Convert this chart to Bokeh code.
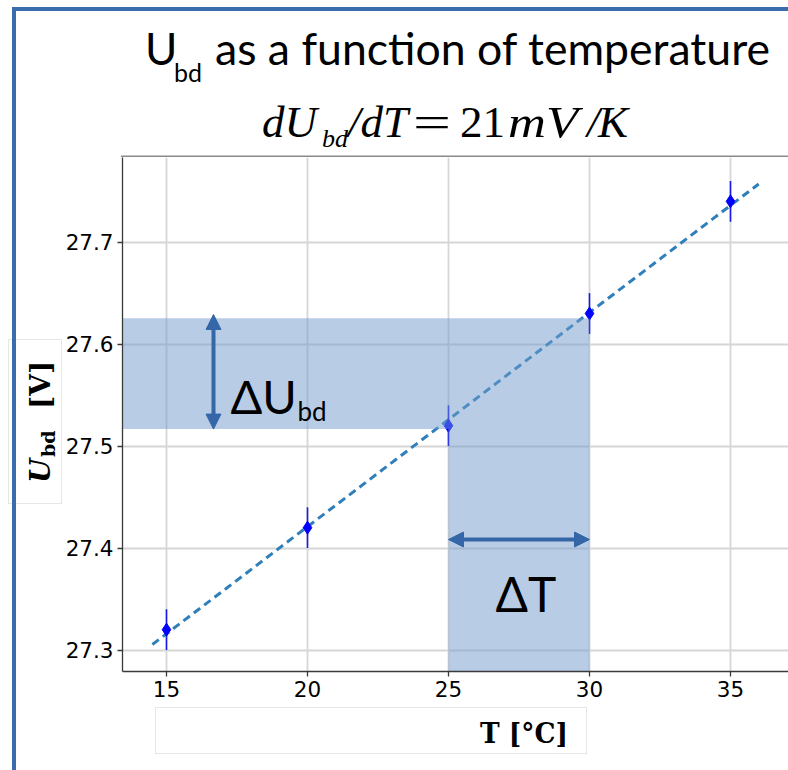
from html import escape

from bokeh.embed import file_html
from bokeh.layouts import column, row
from bokeh.models import (Arrow, ColumnDataSource, Div, Label, NormalHead,
                          Range1d)
from bokeh.plotting import figure
from bokeh.resources import INLINE

# Breakdown voltage measured at five temperatures
temperature = [15, 20, 25, 30, 35]
u_bd = [27.32, 27.42, 27.52, 27.63, 27.74]
u_err = [0.02, 0.02, 0.02, 0.02, 0.02]

# Straight-line fit (slope 21 mV/K), end points
fit_t = [14.5, 36.0]
fit_u = [27.3055, 27.757]

x_ticks = [15, 20, 25, 30, 35]
y_ticks = [27.3, 27.4, 27.5, 27.6, 27.7]

# Intervals used to illustrate the slope
dT_span = [25, 30]
dU_span = [27.5167, 27.6255]

# Texts
title_main = "as a function of temperature"
x_title = "T [\u00b0C]"

# Page geometry (pixels)
W, H = 788, 770
TOP_H = 157            # header strip above the plot frame
LEFT_W = 62            # strip left of the figure (y title)
FIG_H = 550            # figure height (frame + tick labels)
BOTTOM_H = H - TOP_H - FIG_H
FL, FR, FT, FB = 122, 788, 157, 671   # frame edges on the page
X0, X1 = 13.44, 37.057
Y0, Y1 = 27.279, 27.783

BORDER = "#3b6cae"
ARROW = "#3466a8"


def dx(px):
    return X0 + (px - FL) * (X1 - X0) / (FR - FL)


def dy(py):
    return Y1 - (py - FT) * (Y1 - Y0) / (FB - FT)


# ---------------------------------------------------------------- figure
p = figure(width=W - LEFT_W, height=FIG_H,
           x_range=Range1d(X0, X1), y_range=Range1d(Y0, Y1),
           output_backend="svg", toolbar_location=None,
           min_border_left=FL - LEFT_W, min_border_right=0, min_border_top=0,
           min_border_bottom=TOP_H + FIG_H - FB, margin=0)
p.outline_line_color = None
p.background_fill_color = "white"
p.border_fill_color = "white"

for ax in (p.xaxis[0], p.yaxis[0]):
    ax.axis_line_color = "#3a3a3a"
    ax.axis_line_width = 1.3
    ax.major_tick_line_color = "#3a3a3a"
    ax.major_tick_line_width = 1.3
    ax.major_tick_out = 5
    ax.major_tick_in = 0
    ax.minor_tick_line_color = None
    ax.major_label_text_font = "DejaVu Sans"
    ax.major_label_text_font_size = "21.5px"
    ax.major_label_text_color = "black"
    ax.major_label_standoff = 4
p.xaxis.ticker = x_ticks
p.yaxis.ticker = y_ticks

for g in (p.xgrid[0], p.ygrid[0]):
    g.grid_line_color = "#d6d6d6"
    g.grid_line_width = 1.8

# Fit line, error bars and points
src = ColumnDataSource(dict(
    t=temperature, u=u_bd,
    lo=[u - e for u, e in zip(u_bd, u_err)],
    hi=[u + e for u, e in zip(u_bd, u_err)],
))
p.line(fit_t, fit_u, line_color="#2f7fbb", line_width=3, line_dash="8 5")
p.segment(x0="t", y0="lo", x1="t", y1="hi", source=src,
          line_color="#1a1ae6", line_width=1.6)
p.scatter(x="t", y="u", source=src, marker="diamond", size=13,
          fill_color="#0000ff", line_color="#0000ff")

# L-shaped highlight of dU and dT
band_x = [X0, dT_span[1], dT_span[1], dT_span[0], dT_span[0], X0]
band_y = [dU_span[1], dU_span[1], Y0, Y0, dU_span[0], dU_span[0]]
p.patch(band_x, band_y, fill_color="#719bcb", fill_alpha=0.5, line_color=None)


def head():
    return NormalHead(size=15, fill_color=ARROW, line_color=ARROW, line_width=1)


p.add_layout(Arrow(x_start=dx(213), y_start=dU_span[0], x_end=dx(213), y_end=dy(314),
                   start=head(), end=head(), line_color=ARROW, line_width=4))
p.add_layout(Arrow(x_start=dT_span[0], y_start=dy(539), x_end=dT_span[1], y_end=dy(539),
                   start=head(), end=head(), line_color=ARROW, line_width=4))


def label(px, py, s, size):
    p.add_layout(Label(x=dx(px), y=dy(py), text=s, text_font="Lato",
                       text_font_size=f"{size}px", text_align="left",
                       text_baseline="alphabetic", text_color="black"))


label(230, 395, "\u0394U", 47)
label(297, 410, "bd", 26)
label(495, 593, "\u0394T", 48)


# ------------------------------------------------------ surrounding strips
def svg_text(x, y, s, family, size, style="normal", weight="normal",
             anchor="start", transform=None, extra=""):
    css = (f"font-family:'{family}';font-size:{size}px;font-style:{style};"
           f"font-weight:{weight};text-anchor:{anchor};fill:black")
    tr = f' transform="{transform}"' if transform else ""
    return f'<text x="{x}" y="{y}" style="{css}"{tr} {extra}>{escape(s)}</text>'


def svg_div(w, h, body):
    html = (f'<svg xmlns="http://www.w3.org/2000/svg" width="{w}" height="{h}" '
            f'style="display:block">{body}</svg>')
    return Div(text=html, width=w, height=h, margin=0,
               styles={"padding": "0px", "overflow": "hidden"})


def fit(n):
    return f'textLength="{n}" lengthAdjust="spacingAndGlyphs"'


SANS = "Lato"
SERIF = "Liberation Serif"
LABEL_FONT = "DejaVu Serif"

top_body = "".join([
    f'<rect x="12" y="7" width="{W - 12}" height="4" fill="{BORDER}"/>',
    f'<rect x="12" y="7" width="4" height="{TOP_H - 7}" fill="{BORDER}"/>',
    f'<rect x="{FL - 1}" y="{TOP_H - 1.5}" width="{W - FL + 1}" height="1.5" fill="#8a8a8a"/>',
    # title
    svg_text(145, 65, "U", SANS, 44),
    svg_text(174, 82, "bd", SANS, 25),
    svg_text(215, 65, title_main, SANS, 44, extra=fit(555)),
    # slope formula
    svg_text(262, 137, "dU", SERIF, 45, style="italic"),
    svg_text(322, 147, "bd", SERIF, 26, style="italic"),
    svg_text(348, 137, "/dT", SERIF, 45, style="italic"),
    svg_text(413, 137, "=", SERIF, 45, extra=fit(38)),
    svg_text(460, 137, "21", SERIF, 45),
    svg_text(508, 137, "mV", SERIF, 45, style="italic", extra=fit(70)),
    svg_text(587, 137, "/", SERIF, 45, style="italic"),
    svg_text(598, 137, "K", SERIF, 45, style="italic"),
])

oy = TOP_H
left_body = "".join([
    f'<rect x="8.5" y="{339 - oy + 0.5}" width="53" height="164" fill="white" stroke="#e6e6e6"/>',
    f'<rect x="12" y="0" width="4" height="{FIG_H}" fill="{BORDER}"/>',
    svg_text(0, 0, "U", LABEL_FONT, 28, style="italic", weight="bold",
             transform=f"translate(50,{483 - oy}) rotate(-90)"),
    svg_text(0, 0, "bd", LABEL_FONT, 19, weight="bold",
             transform=f"translate(55,{457 - oy}) rotate(-90)"),
    svg_text(0, 0, "[V]", LABEL_FONT, 28, weight="bold",
             transform=f"translate(50,{409 - oy}) rotate(-90)"),
])

by = TOP_H + FIG_H
bottom_body = "".join([
    f'<rect x="155.5" y="0.5" width="431" height="{753 - by}" fill="white" stroke="#e6e6e6"/>',
    f'<rect x="12" y="0" width="4" height="{BOTTOM_H}" fill="{BORDER}"/>',
    svg_text(480, 743 - by, x_title, LABEL_FONT, 28, weight="bold", extra=fit(88)),
])

top = svg_div(W, TOP_H, top_body)
left = svg_div(LEFT_W, FIG_H, left_body)
bottom = svg_div(W, BOTTOM_H, bottom_body)

page = column(top, row(left, p, spacing=0, margin=0), bottom, spacing=0, margin=0)

open("out.html", "w").write(file_html(page, INLINE))
